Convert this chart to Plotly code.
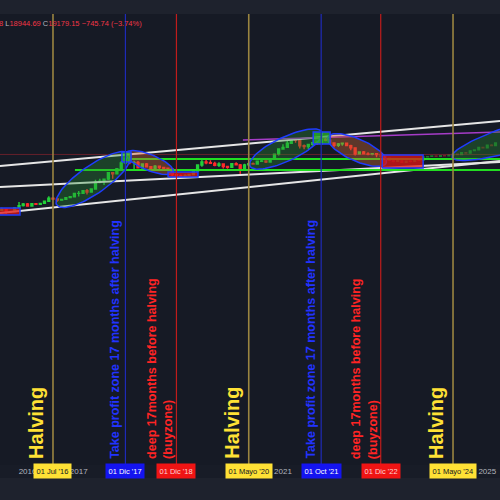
import math
from datetime import date, timedelta

import pandas as pd
import plotly.graph_objects as go

# monthly BTC candles (price history up to the last close)
real_open = [230, 263, 284, 230, 236, 314, 377,
             430, 368, 437, 416, 448, 531, 673, 624, 575, 609, 700, 742,
             963, 970, 1190, 1080, 1348, 2300, 2480, 2875, 4700, 4340, 6470, 10000,
             13860, 10220, 10330, 6930, 9240, 7500, 6400, 7730, 7030, 6630, 6320, 4020,
             3740, 3460, 3820, 4100, 5320, 8570, 10820, 10090, 9630, 8290, 9200, 7570,
             7190, 9350, 8600, 6440, 8630, 9450, 9140, 11350, 11660, 10780, 13800, 19700,
             28990, 33100, 45240, 58800, 57700, 37300, 35040, 41460, 47100, 43790, 61300, 56950,
             46200, 38480, 43190, 45540, 37640, 31790, 19940, 23300, 20050, 19420, 20490]
real_high = [268, 318, 285, 245, 336, 503, 466,
             463, 446, 439, 467, 553, 781, 703, 627, 616, 720, 756, 975,
             1150, 1200, 1350, 1380, 2760, 2980, 2920, 4760, 4980, 6480, 11500, 19800,
             17200, 11790, 11700, 9770, 9990, 7760, 8500, 7760, 7410, 7050, 6600, 4300,
             4100, 4200, 4120, 5640, 9100, 13880, 13150, 12300, 10950, 10540, 9500, 7740,
             9570, 10500, 9180, 9480, 10070, 10380, 11450, 12470, 12100, 14100, 19900, 29300,
             41950, 58350, 61790, 64850, 59500, 41300, 42300, 50500, 52900, 67000, 69000, 59100,
             47990, 45800, 48200, 47450, 40000, 31980, 24670, 25200, 22800, 21100, 21480]
real_low = [220, 253, 198, 225, 236, 298, 351,
            350, 367, 393, 414, 436, 520, 606, 513, 565, 603, 683, 741,
            758, 931, 890, 1060, 1340, 2100, 1840, 2690, 2950, 4100, 5500, 10000,
            9050, 5970, 6600, 6430, 7000, 5760, 6100, 5880, 6100, 6200, 3560, 3150,
            3350, 3380, 3690, 4080, 5300, 7500, 9100, 9400, 7710, 7300, 6520, 6430,
            6860, 8450, 3850, 6150, 8130, 8830, 8950, 11120, 9880, 10380, 13240, 17600,
            28130, 32300, 45000, 47050, 30000, 28800, 29300, 37400, 39600, 43290, 53250, 42000,
            32900, 34300, 37150, 37700, 26700, 17600, 18780, 19550, 18150, 18200, 15480]
real_close = [263, 284, 230, 236, 314, 377, 430,
              368, 437, 416, 448, 531, 673, 624, 575, 609, 700, 742, 963,
              970, 1190, 1080, 1348, 2300, 2480, 2875, 4700, 4340, 6470, 10000, 13860,
              10220, 10330, 6930, 9240, 7500, 6400, 7730, 7030, 6630, 6320, 4020, 3740,
              3460, 3820, 4100, 5320, 8570, 10820, 10090, 9630, 8290, 9200, 7570, 7190,
              9350, 8600, 6440, 8630, 9450, 9140, 11350, 11660, 10780, 13800, 19700, 28990,
              33100, 45240, 58800, 57700, 37300, 35040, 41460, 47100, 43790, 61300, 56950, 46200,
              38480, 43190, 45540, 37640, 31790, 19940, 23300, 20050, 19420, 20490, 19179.15]

# projected (faded) bars pattern
proj_open = [19179, 16500, 14500, 12100, 11200, 12300, 10500, 11500, 11200, 12900, 12200, 15800,
             16400, 17100, 16600, 17600, 17300, 18100, 19800, 18800, 22000, 21200, 25500, 27200,
             32800, 31500, 39000, 37800]
proj_high = [19500, 17200, 15000, 12900, 12800, 12600, 11900, 12300, 13300, 13500, 16300, 17100,
             17900, 17400, 18100, 18300, 18600, 20500, 20700, 22600, 23200, 26200, 28300, 33600,
             34500, 40500, 41800, 48000]
proj_low = [15800, 13900, 11500, 10600, 10700, 10000, 10200, 10600, 10900, 11700, 11900, 15200,
            15800, 16000, 16300, 16600, 16800, 17600, 18200, 18400, 20300, 20800, 24700, 26600,
            30000, 31000, 36000, 37000]
proj_close = [16500, 14500, 12100, 11200, 12300, 10500, 11500, 11200, 12900, 12200, 15800, 16400,
              17100, 16600, 17600, 17300, 18100, 19800, 18800, 22000, 21200, 25500, 27200, 32800,
              31500, 39000, 37800, 46500]

last_price = 19179.15

# cycle marker dates
halving_dates = ["2016-07-01", "2020-05-01", "2024-05-01"]
halving_labels = ["01 Jul '16", "01 Mayo '20", "01 Mayo '24"]
top_dates = ["2017-12-01", "2021-10-01"]
top_labels = ["01 Dic '17", "01 Oct '21"]
buy_dates = ["2018-12-01", "2022-12-01"]
buy_labels = ["01 Dic '18", "01 Dic '22"]
year_ticks = ["2016-01-01", "2017-01-01", "2021-01-01", "2025-01-01"]
year_labels = ["2016", "2017", "2021", "2025"]

# drawings: (start, end, price low, price high)
buy_boxes = [("2015-05-20", "2015-11-08", 184, 315),
             ("2018-10-02", "2019-05-04", 3400, 4990),
             ("2022-12-11", "2023-09-30", 6780, 18400)]
top_boxes = [("2017-11-06", "2018-01-10", 10700, 23200),
             ("2021-08-05", "2021-12-04", 42800, 107000)]
# ellipses: (date a, price a, date b, price b, half thickness px)
pump_ellipses = [("2016-07-29", 396, "2018-01-04", 19900, 14),
                 ("2020-05-10", 7900, "2021-10-07", 107000, 12),
                 ("2024-04-25", 15500, "2027-01-15", 420000, 13)]
dump_ellipses = [("2017-12-06", 21400, "2018-11-07", 4990, 8),
                 ("2021-11-19", 73300, "2023-01-10", 9950, 11)]
# trend lines: (date a, price a, date b, price b)
white_lines = [("2015-06-18", 7900, "2025-04-02", 250000),
               ("2015-06-18", 1578, "2025-04-02", 10700),
               ("2015-06-18", 214, "2025-04-02", 11600)]
green_levels = [("2018-01-03", 13500), ("2016-12-05", 5820)]
purple_line = ("2020-03-20", 58200, "2025-04-02", 107000)

X0, X1 = date(2015, 6, 18), date(2025, 4, 2)
Y0, Y1 = -6.07, 8.965
W, PLOT_H = 500, 451
PXD = W / (X1 - X0).days
PXV = PLOT_H / (Y1 - Y0)

BG = "#161a25"
YELLOW = "#ffe135"
BLUE = "#2233ff"
RED = "#ff2424"


def ellipse(da, pa, db, pb, half):
    ua = (date.fromisoformat(da) - X0).days * PXD
    ub = (date.fromisoformat(db) - X0).days * PXD
    va, vb = math.log10(pa) * PXV, math.log10(pb) * PXV
    cu, cv = (ua + ub) / 2, (va + vb) / 2
    a = math.hypot(ub - ua, vb - va) / 2
    ang = math.atan2(vb - va, ub - ua)
    xs, ys = [], []
    for i in range(101):
        t = 2 * math.pi * i / 100
        u = cu + a * math.cos(t) * math.cos(ang) - half * math.sin(t) * math.sin(ang)
        v = cv + a * math.cos(t) * math.sin(ang) + half * math.sin(t) * math.cos(ang)
        xs.append(X0 + timedelta(days=u / PXD))
        ys.append(10 ** (v / PXV))
    return xs, ys


fig = go.Figure()

fig.add_trace(go.Candlestick(
    x=pd.date_range("2015-06-01", periods=len(real_open), freq="MS"),
    open=real_open, high=real_high, low=real_low, close=real_close,
    increasing=dict(line=dict(color="#22d03a", width=1.4), fillcolor="#22d03a"),
    decreasing=dict(line=dict(color="#ff2a2a", width=1.4), fillcolor="#ff2a2a"),
    whiskerwidth=0, hoverinfo="skip"))
fig.add_trace(go.Candlestick(
    x=pd.date_range("2022-12-01", periods=len(proj_open), freq="MS"),
    open=proj_open, high=proj_high, low=proj_low, close=proj_close,
    increasing=dict(line=dict(color="#1f8f2e", width=1.2), fillcolor="#1f8f2e"),
    decreasing=dict(line=dict(color="#8a2a2a", width=1.2), fillcolor="#8a2a2a"),
    whiskerwidth=0, opacity=0.8, hoverinfo="skip"))

# price line
fig.add_trace(go.Scatter(x=[X0, X1], y=[last_price, last_price], mode="lines",
                         line=dict(color="rgba(200,40,50,0.45)", width=1)))

# trend lines
for da, pa, db, pb in white_lines:
    fig.add_trace(go.Scatter(x=[da, db], y=[pa, pb], mode="lines",
                             line=dict(color="#e6e6e6", width=2)))
for d, p in green_levels:
    fig.add_trace(go.Scatter(x=[d, X1], y=[p, p], mode="lines",
                             line=dict(color="#22dd22", width=2)))
fig.add_trace(go.Scatter(x=[purple_line[0], purple_line[2]], y=[purple_line[1], purple_line[3]],
                         mode="lines", line=dict(color="#a63cc8", width=1.5)))

# ellipses
for e in pump_ellipses:
    xs, ys = ellipse(*e)
    fig.add_trace(go.Scatter(x=xs, y=ys, mode="lines", fill="toself",
                             fillcolor="rgba(40,140,50,0.35)",
                             line=dict(color="#1f3cff", width=1.5)))
for e in dump_ellipses:
    xs, ys = ellipse(*e)
    fig.add_trace(go.Scatter(x=xs, y=ys, mode="lines", fill="toself",
                             fillcolor="rgba(200,100,50,0.4)",
                             line=dict(color="#1f3cff", width=1.5)))

# boxes
for d0, d1, p0, p1 in buy_boxes:
    fig.add_trace(go.Scatter(x=[d0, d1, d1, d0, d0], y=[p0, p0, p1, p1, p0], mode="lines",
                             fill="toself", fillcolor="rgba(225,20,20,0.75)",
                             line=dict(color="#1f3cff", width=1.5)))
for d0, d1, p0, p1 in top_boxes:
    fig.add_trace(go.Scatter(x=[d0, d1, d1, d0, d0], y=[p0, p0, p1, p1, p0], mode="lines",
                             fill="toself", fillcolor="rgba(40,190,40,0.7)",
                             line=dict(color="#1f3cff", width=1.5)))

shapes = [dict(type="rect", xref="paper", yref="paper", x0=0, x1=1, y0=-0.029, y1=0,
               fillcolor="#181c27", line=dict(width=0), layer="below")]
for d in halving_dates:
    shapes.append(dict(type="line", xref="x", yref="paper", x0=d, x1=d, y0=0, y1=1,
                       line=dict(color="#9a8540", width=1.6)))
for d in top_dates:
    shapes.append(dict(type="line", xref="x", yref="paper", x0=d, x1=d, y0=0, y1=1,
                       line=dict(color="#1e2ab8", width=1.2)))
for d in buy_dates:
    shapes.append(dict(type="line", xref="x", yref="paper", x0=d, x1=d, y0=0, y1=1,
                       line=dict(color="#c01c1c", width=1.2)))

ann = []
font_b = "Liberation Sans, Arial, sans-serif"
text_bottom = 0.009
for d in halving_dates:
    ann.append(dict(x=d, xref="x", y=text_bottom, yref="paper", text="<b>Halving</b>",
                    textangle=-90, xanchor="center", yanchor="bottom", xshift=-17,
                    showarrow=False, font=dict(family=font_b, size=20, color=YELLOW)))
for d in top_dates:
    ann.append(dict(x=d, xref="x", y=text_bottom, yref="paper",
                    text="<b>Take profit zone 17 months after halving</b>",
                    textangle=-90, xanchor="center", yanchor="bottom", xshift=-10,
                    showarrow=False, font=dict(family=font_b, size=12.5, color=BLUE)))
for d in buy_dates:
    ann.append(dict(x=d, xref="x", y=text_bottom, yref="paper",
                    text="<b>deep 17months before halving<br>(buyzone)</b>", align="left",
                    textangle=-90, xanchor="center", yanchor="bottom", xshift=-16,
                    showarrow=False, font=dict(family=font_b, size=12.5, color=RED)))

label_y = -0.0144
for dates, labels, bg, fg in [(halving_dates, halving_labels, "#ffe135", "#131722"),
                              (top_dates, top_labels, "#1414f0", "#ffffff"),
                              (buy_dates, buy_labels, "#f01414", "#ffd6d6")]:
    for d, t in zip(dates, labels):
        ann.append(dict(x=d, xref="x", y=label_y, yref="paper", text=t, showarrow=False,
                        xanchor="center", yanchor="middle", bgcolor=bg, borderpad=2.5,
                        font=dict(family=font_b, size=7.5, color=fg)))

red = "#f23645"
ann.append(dict(x=-0.006, xref="paper", y=0.98, yref="paper", xanchor="left", yanchor="middle",
                showarrow=False, font=dict(family=font_b, size=7.5, color="#b2b5be"),
                text=(f"<span style='color:{red}'>8</span> L<span style='color:{red}'>18944.69</span>"
                      f" C<span style='color:{red}'>19179.15</span>"
                      f" <span style='color:{red}'>−745.74 (−3.74%)</span>")))

fig.update_layout(
    width=500, height=500,
    margin=dict(l=0, r=0, t=14, b=35, pad=0, autoexpand=False),
    paper_bgcolor="#1e222d", plot_bgcolor=BG,
    showlegend=False, hovermode=False,
    shapes=shapes, annotations=ann,
    xaxis=dict(type="date", range=[X0.isoformat(), X1.isoformat()], showgrid=False,
               zeroline=False, rangeslider=dict(visible=False), automargin=False,
               tickvals=year_ticks, ticktext=year_labels, ticks="", ticklabelstandoff=0,
               tickfont=dict(family=font_b, size=8, color="#b2b5be")),
    yaxis=dict(type="log", range=[Y0, Y1], showgrid=False, zeroline=False,
               showticklabels=False, automargin=False),
)

fig.write_html("out.html", config={"displayModeBar": False},
               post_script="document.body.style.margin = '0';")
